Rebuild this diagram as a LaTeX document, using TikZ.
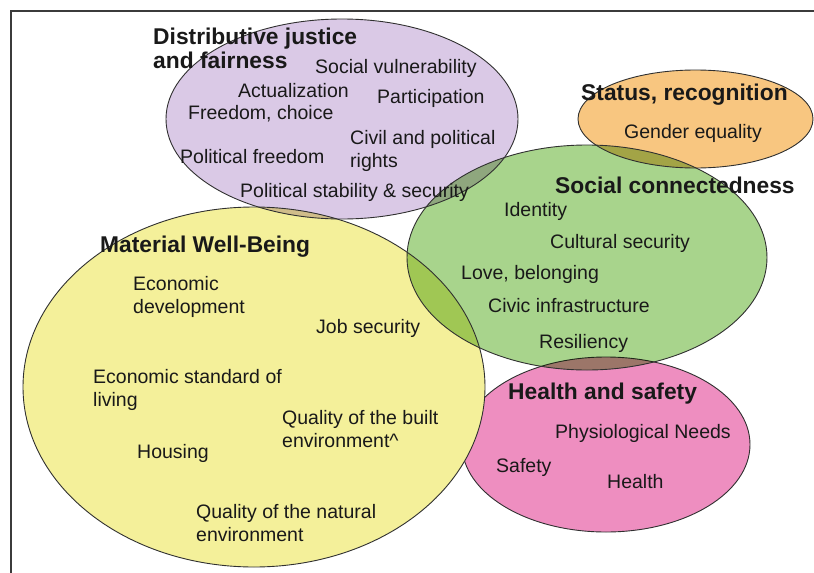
\documentclass[tikz,border=0pt]{standalone}
\usepackage{fontspec}
\setmainfont{Liberation Sans}
\definecolor{djfill}{RGB}{218,201,230}
\definecolor{srfill}{RGB}{248,198,128}
\definecolor{scfill}{RGB}{168,212,140}
\definecolor{mwfill}{RGB}{244,240,154}
\definecolor{hsfill}{RGB}{238,142,192}
\definecolor{ink}{RGB}{25,25,25}
\begin{document}
\begin{tikzpicture}[x=1pt,y=-1pt,
  bubblefill/.style={blend mode=multiply},
  bubbleline/.style={draw=ink!90, line width=0.9pt},
  title/.style={font=\fontsize{22.8}{24.5}\selectfont\bfseries, text=ink, inner sep=0pt, align=left},
  item/.style={font=\fontsize{19.5}{23}\selectfont, text=ink, inner sep=0pt, align=left},
]
\useasboundingbox (0,0) rectangle (814,573);
\fill[white] (0,0) rectangle (814,573);

% frame
\draw[line width=2pt, ink!85] (814,11) -- (11,11) -- (11,573);

% health circle sits underneath the material circle
\path[fill=hsfill] (606,444.5) ellipse [x radius=144pt, y radius=87.5pt];
\draw[bubbleline] (606,444.5) ellipse [x radius=144pt, y radius=87.5pt];
\path[fill=mwfill] (254,387) ellipse [x radius=231pt, y radius=180pt];

% remaining circles are multiplied so overlaps darken
\path[bubblefill, fill=djfill] (342,119) ellipse [x radius=176pt, y radius=100pt];
\path[bubblefill, fill=srfill] (695.5,119) ellipse [x radius=117.5pt, y radius=49pt];
\path[bubblefill, fill=scfill] (587,257.5) ellipse [x radius=180pt, y radius=112.5pt];

% circle outlines
\draw[bubbleline] (254,387) ellipse [x radius=231pt, y radius=180pt];
\draw[bubbleline] (342,119) ellipse [x radius=176pt, y radius=100pt];
\draw[bubbleline] (695.5,119) ellipse [x radius=117.5pt, y radius=49pt];
\draw[bubbleline] (587,257.5) ellipse [x radius=180pt, y radius=112.5pt];

% Distributive justice and fairness
\node[title, anchor=north west] (djT) at (153,27.5) {Distributive justice\\and fairness};
\node[item, anchor=base west] (djVul) at (315,73) {Social vulnerability};
\node[item, anchor=base west] (djAct) at (238,97) {Actualization};
\node[item, anchor=base west] (djPart) at (377,103) {Participation};
\node[item, anchor=base west] (djFree) at (188,119) {Freedom, choice};
\node[item, anchor=base west] (djPolF) at (180,163) {Political freedom};
\node[item, anchor=north west] (djCivil) at (350,130) {Civil and political\\rights};
\node[item, anchor=base west] (djStab) at (240,197) {Political stability \& security};

% Status, recognition
\node[title, anchor=base west] (srT) at (581,100) {Status, recognition};
\node[item, anchor=base west] (srGen) at (624,138) {Gender equality};

% Social connectedness
\node[title, anchor=base west] (scT) at (555,193) {Social connectedness};
\node[item, anchor=base west] (scId) at (504,216) {Identity};
\node[item, anchor=base west] (scCult) at (550,248) {Cultural security};
\node[item, anchor=base west] (scLove) at (461,279) {Love, belonging};
\node[item, anchor=base west] (scCivic) at (488,312) {Civic infrastructure};
\node[item, anchor=base west] (scRes) at (539,348) {Resiliency};

% Material Well-Being
\node[title, anchor=base west] (mwT) at (100,252) {Material Well-Being};
\node[item, anchor=north west] (mwDev) at (133,276) {Economic\\development};
\node[item, anchor=base west] (mwJob) at (316,333) {Job security};
\node[item, anchor=north west] (mwStd) at (93,369) {Economic standard of\\living};
\node[item, anchor=north west] (mwBuilt) at (282,410) {Quality of the built\\environment\textasciicircum};
\node[item, anchor=base west] (mwHouse) at (137,458) {Housing};
\node[item, anchor=north west] (mwNat) at (196,504) {Quality of the natural\\environment};

% Health and safety
\node[title, anchor=base west] (hsT) at (508,399) {Health and safety};
\node[item, anchor=base west] (hsPhys) at (555,438) {Physiological Needs};
\node[item, anchor=base west] (hsSafe) at (496,472) {Safety};
\node[item, anchor=base west] (hsHealth) at (607,488) {Health};
\end{tikzpicture}
\end{document}
